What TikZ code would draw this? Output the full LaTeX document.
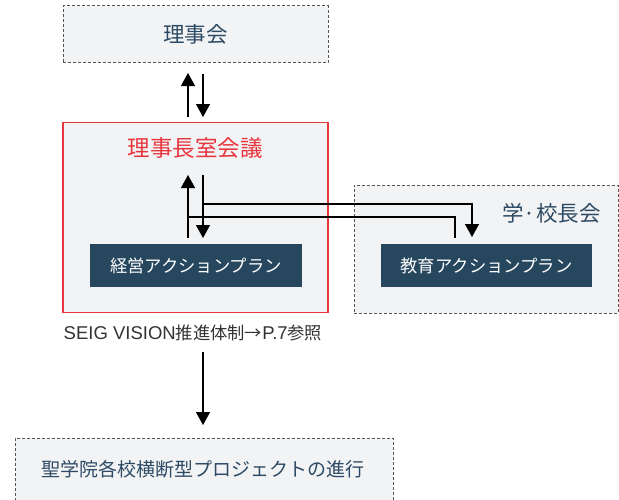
\documentclass[tikz,border=0pt]{standalone}
\usepackage{fontspec}
\setmainfont{Noto Sans CJK JP}
\newfontfamily\latinfont{Liberation Sans}
\usetikzlibrary{arrows.meta}

\definecolor{navy}{HTML}{27475F}
\definecolor{inktext}{HTML}{2D4A64}
\definecolor{paleback}{HTML}{F2F3F5}
\definecolor{chairred}{HTML}{E8363E}
\definecolor{edgegray}{HTML}{555555}

\tikzset{
	panel/.style={draw=edgegray, dash pattern=on 3pt off 2pt, fill=paleback, line width=0.9pt},
	plan/.style={fill=navy, text=white, minimum width=212pt, minimum height=43pt, font=\fontsize{17.3}{17}\selectfont},
	flow/.style={line width=1.3pt, -{Triangle[width=14pt,length=13pt]}},
	link/.style={line width=1.3pt}
}

\begin{document}
\begin{tikzpicture}[x=1pt, y=-1pt]
	\clip (0,0) rectangle (619,499);
	\fill[white] (0,0) rectangle (619,499);
	
	% Define board
	\node[panel, minimum width=265pt, minimum height=57pt, text=inktext, font=\fontsize{21.5}{21}\selectfont] (Board) at (195.5,34) {理事会};
	
	% Define chair meeting
	\node[draw=chairred, fill=paleback, line width=1.3pt, minimum width=265pt, minimum height=190pt] (Chair) at (195.5,217.5) {};
	\node[text=chairred, font=\fontsize{22.5}{22}\selectfont] (ChairLabel) at (195,148) {理事長室会議};
	
	% Define school heads
	\node[panel, minimum width=264pt, minimum height=128pt] (Heads) at (486,249) {};
	\node[text=inktext, font=\fontsize{21.5}{21}\selectfont] (HeadsLabel) at (551.5,213) {学·校長会};
	
	% Define plans
	\node[plan] (Manage) at (196,265.5) {経営アクションプラン};
	\node[plan, minimum width=211pt] (Teach) at (486.5,265.5) {教育アクションプラン};
	
	% Define caption and project
	\node[text=black!80, font=\fontsize{17.3}{17}\selectfont] (Caption) at (193,333) {{\latinfont\fontsize{18.5}{18}\selectfont SEIG VISION}推進体制→{\latinfont\fontsize{18.5}{18}\selectfont P.7}参照};
	\node[panel, minimum width=378pt, minimum height=64pt] (Project) at (204,470) {};
	\node[text=inktext, font=\fontsize{19}{19}\selectfont] (ProjectLabel) at (203,469) {聖学院各校横断型プロジェクトの進行};
	
	% Arrow ends
	\coordinate (BoardUp) at (188,73);
	\coordinate (BoardDown) at (203,117);
	\coordinate (ChairUp) at (188,175);
	\coordinate (ChairDown) at (203,238);
	\coordinate (TeachIn) at (472,237);
	\coordinate (TeachOut) at (455,238);
	\coordinate (ProjectIn) at (203,425);
	
	\draw[flow] (188,117) -- (BoardUp);
	\draw[flow] (203,74) -- (BoardDown);
	
	\draw[flow] (188,238) -- (ChairUp);
	\draw[flow] (203,175) -- (ChairDown);
	
	\draw[flow] (203,204) -| (TeachIn);
	\draw[link] (TeachOut) |- (188,217);
	
	\draw[flow] (203,352) -- (ProjectIn);
\end{tikzpicture}
\end{document}
